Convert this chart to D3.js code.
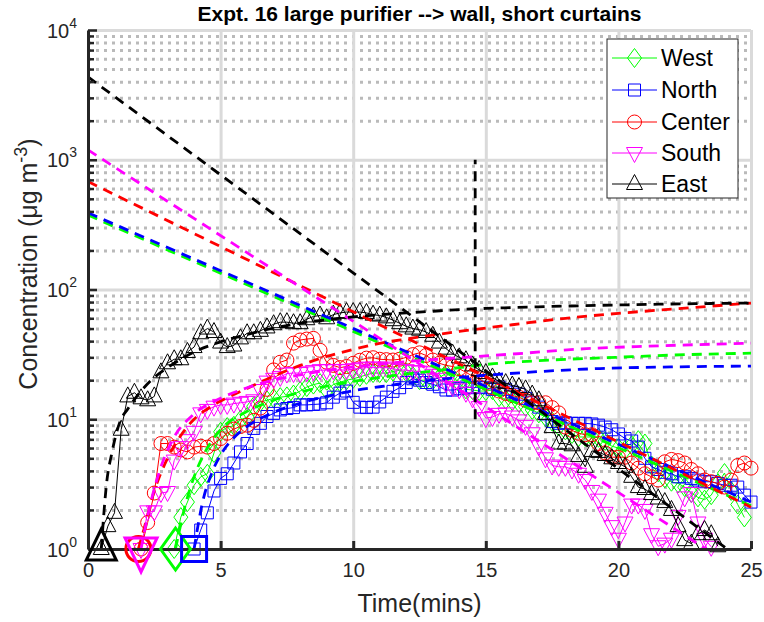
<!DOCTYPE html>
<html><head><meta charset="utf-8">
<script src="https://cdn.jsdelivr.net/npm/d3@7"></script>
<style>body{margin:0;background:#fff}svg{display:block}</style>
</head><body>
<svg id="chart" width="764" height="622"></svg>
<script>
// ---------------- DATA ----------------
const seriesNames   = ["West", "North", "Center", "South", "East"];
const seriesColors  = ["#00ff00", "#0000ff", "#ff0000", "#ff00ff", "#000000"];
const seriesMarkers = ["diamond", "square", "circle", "triangleDown", "triangleUp"];
const sampleStep = 0.25; // minutes between samples

const westStart = 3.25;
const westValues = [1,1.76,2.3,3.1,3.6,3.8,5.5,8,8.7,8.9,9.9,10.4,12.6,13.6,14,14.5,14.8,15,15.5,16.5,17.7,18.5,19,16.8,18.5,19.3,20,20.5,21.2,22,22.7,22.7,22.7,23.3,23.9,23,21.5,20,20,20,21,22.5,21,19,17,16.8,16.5,16.5,16.8,14.8,14.2,13.8,13.4,12.5,11.8,11.1,10.4,9.6,8.8,8.2,7.7,7.3,7.3,7.3,7.2,6.8,6.2,6.0,5.8,6.3,6.9,6.5,4.4,3.9,3.5,3.3,3.2,3.0,2.7,2.5,2.4,2.6,3.2,3.85,2.8,2.2,1.75];

const northStart = 4.0;
const northValues = [1,1.4,1.9,2.8,3.5,3.8,4.6,5.6,6.5,8.5,9.3,10.5,11.1,11.8,12.1,12.3,12.9,12.9,13,13.1,13.4,14.8,15.9,16.5,13.5,12.4,12.3,12.4,13.6,14.8,16.4,17.5,19.2,20.5,20,19.2,18.6,17.8,16.8,16.8,17.2,17.7,17.5,17.7,17.5,17,17.7,17,16.2,15.6,14.5,13.4,12.4,11,9.6,9.3,9.4,9.3,9.3,9.3,9.2,9.0,8.7,8.3,7.7,7.1,6.8,6.1,5.0,4.3,4.1,3.9,3.8,3.6,3.6,3.5,3.4,3.3,3.3,3.2,3.1,3.1,3.0,2.6,2.3];

const centerStart = 2.0;
const centerValues = [1,1.6,2.7,6.5,6.5,6.1,5.8,5.6,6.1,6.2,6.1,6.5,7.1,7.8,8.4,8.8,9.0,9.8,12.2,17,24,27.5,28.6,38.6,40.8,41.5,42,34,27.5,26,25,25.5,27,28.5,29.6,29.8,29,28.8,28.6,29,30,31.5,32.5,31,28.6,27,26,25.5,24.5,23,21.5,20.5,19,17.5,16.5,15.8,15.2,14.8,14,13.4,13.4,13.4,12.3,11.2,8.7,8.2,7.8,7.6,7.6,6.5,5.5,5.1,5.1,5.1,4.6,4.2,3.8,3.6,3.4,4.7,4.9,4.8,4.6,4.1,3.8,3.4,3.3,3.2,3.0,3.4,4.4,4.6,4.2];

const southStart = 2.0;
const southValues = [1,1.95,1.95,2.7,2.75,4.8,6.1,6.9,8,11.1,11.8,12.5,12.9,12.9,13.2,13.4,13.6,14,16.8,19.5,20.5,21.2,22.5,22.7,22.7,23,23.5,23.9,23.9,23.9,24,23.9,24.3,24.7,25,25,25,25,24.5,24,23.9,23.5,23.3,23,22,20.5,19,17.7,17,16,14.5,12.4,10.2,10.4,11,11.1,10.5,9.8,8.9,7.8,6.2,5,4.4,4.3,4.3,4.1,3.8,3.4,2.8,2.4,1.9,1.5,1.2,1.6,2.2,2.2,2.0,1.3,1.05,1.1,1.2,1.8,2.5,2.7,1.6,1.2,1.04];

const eastStart = 0.5;
const eastValues = [1,1.5,1.9,8.3,15,16,14.5,14,15,23,27,29,29,33,36,46,50,47,39,36,37,42,46,46,48,51,54,56,56,55,55,59,62,63,60,64,66,67,67,67,66,64,63,61,58,55,52,50,49,47,44,39,35,32,30,28.5,26,24,22.7,21,19.5,19,18.2,17.7,17,15.5,14,11,8.7,6.5,6.5,6.3,5.2,4.3,5.7,5.6,5.3,5.0,4.6,4.3,3.6,3.0,2.9,2.65,2.45,2.3,2.0,1.5,1.17,1.1,1.3,1.4,1.3,1.05];

// exponential decay fits (straight on log axis): [time, conc]
const westDecay   = [[0, 375], [25, 2.15]];
const northDecay  = [[0, 390], [25, 2.3]];
const centerDecay = [[0, 680], [25, 2.1]];
const southDecay  = [[0, 1190], [23.3, 1]];
const eastDecay   = [[0, 4350], [24.1, 1]];

// build-up fits
const westRise   = [[3.3,1],[3.7,2.3],[4,3.6],[4.5,6],[5,8.3],[6,11.5],[7,14],[8,16.2],[9,18],[10,19.6],[11,21],[12,22.3],[13,23.5],[14,25],[15.3,26.8],[17,28.3],[19.9,30],[22,31.2],[25,32.3]];
const northRise  = [[4,1],[4.3,2.2],[4.7,4],[5,5.3],[5.5,7.2],[6,8.8],[7,11.3],[8,13.3],[9,15],[10,16.6],[11,17.8],[12,19],[13,20],[14,21],[15.5,22.2],[17,23.3],[19.3,24.6],[22,25.3],[25,25.7]];
const centerRise = [[1.9,1],[2.1,1.4],[2.5,2.8],[3,5],[3.5,7.5],[4,10],[4.5,12],[5,13.8],[5.5,15.5],[6,17.3],[7,21.5],[8,26],[9,30.5],[10,34.5],[11,38.5],[12,41.5],[13,44.5],[14,47.5],[15,50.5],[16,53.5],[18,60],[20,65.5],[22,70.5],[25,78.6]];
const southRise  = [[2,1],[2.3,2],[2.7,4],[3.2,7],[4,11],[5,14.5],[6,17.5],[7,20],[8,22],[9,23.8],[10,25.3],[11,26.6],[12,27.8],[13,28.8],[14.5,30.3],[16,31.8],[18.8,35],[21,36.5],[25,38.6]];
const eastRise   = [[0.5,1],[0.7,3.2],[0.9,5.5],[1.2,9.5],[1.5,12],[2,16.5],[2.5,21],[3,25],[4,33],[5,39.5],[6,45],[7,50.5],[8,55],[9,58.5],[10,61.5],[11,64],[12,66],[13,68],[14,70],[15,71.5],[16,72.5],[18,74.5],[20,76],[22,77.3],[25,78.6]];

const startTimes = [3.3, 4.0, 1.9, 2.0, 0.5]; // large start markers (West, North, Center, South, East)
const cutLine = [[14.6, 10], [14.6, 1000]];

const xTicks = [0, 5, 10, 15, 20, 25];
const yMajor = [1, 10, 100, 1000, 10000];
const yExponents = ["0", "1", "2", "3", "4"];

const titleText = "Expt. 16 large purifier --> wall, short curtains";
const xLabelText = "Time(mins)";

// ---------------- LAYOUT ----------------
const L = 88, R = 751, T = 30, B = 549;
const FONT = "'Liberation Sans', Arial, Helvetica, sans-serif";
const AX = "#262626";

const svg = d3.select("#chart");
const x = d3.scaleLinear().domain([0, 25]).range([L, R]);
const y = d3.scaleLog().domain([1, 10000]).range([B, T]);

const yMinor = [];
for (let d = 1; d < 10000; d *= 10) for (let k = 2; k <= 9; k++) yMinor.push(k * d);

// minor grid (dotted)
svg.append("g").attr("transform", `translate(${L},0)`)
  .call(d3.axisLeft(y).tickValues(yMinor).tickSize(-(R - L)).tickFormat(""))
  .call(g => g.select(".domain").remove())
  .call(g => g.selectAll("line").attr("stroke", "#bababa").attr("stroke-width", 3).attr("stroke-dasharray", "3,5"));
// major grid
svg.append("g").attr("transform", `translate(${L},0)`)
  .call(d3.axisLeft(y).tickValues(yMajor.slice(1)).tickSize(-(R - L)).tickFormat(""))
  .call(g => g.select(".domain").remove())
  .call(g => g.selectAll("line").attr("stroke", "#dadada").attr("stroke-width", 3));
svg.append("g").attr("transform", `translate(0,${B})`)
  .call(d3.axisBottom(x).tickValues(xTicks.slice(1)).tickSize(-(B - T)).tickFormat(""))
  .call(g => g.select(".domain").remove())
  .call(g => g.selectAll("line").attr("stroke", "#dadada").attr("stroke-width", 3));

// ---------------- MARKERS ----------------
function markerPath(type, big) {
  switch (type) {
    case "square": { const s = big ? 12.5 : 6; return `M${-s},${-s}H${s}V${s}H${-s}Z`; }
    case "diamond": { const w = big ? 15 : 7, h = big ? 21 : 9.5; return `M0,${-h}L${w},0L0,${h}L${-w},0Z`; }
    case "triangleUp": { const w = big ? 15 : 8, t = big ? 20 : 9.5, b = big ? 11 : 5.5; return `M0,${-t}L${w},${b}L${-w},${b}Z`; }
    case "triangleDown": { const w = big ? 16 : 8, t = big ? 11 : 5.5, b = big ? 23 : 9.5; return `M${-w},${-t}L${w},${-t}L0,${b}Z`; }
  }
  return null;
}
function drawMarker(g, type, cx, cy, color, big) {
  if (type === "circle") {
    g.append("circle").attr("cx", cx).attr("cy", cy).attr("r", big ? 12.5 : 7)
      .attr("fill", "none").attr("stroke", color).attr("stroke-width", big ? 3 : 1);
  } else {
    g.append("path").attr("d", markerPath(type, big)).attr("transform", `translate(${cx},${cy})`)
      .attr("fill", "none").attr("stroke", color).attr("stroke-width", big ? 3 : 1).attr("stroke-linejoin", "miter");
  }
}

const allStarts = [westStart, northStart, centerStart, southStart, eastStart];
const allValues = [westValues, northValues, centerValues, southValues, eastValues];
const allDecay = [westDecay, northDecay, centerDecay, southDecay, eastDecay];
const allRise = [westRise, northRise, centerRise, southRise, eastRise];

const line = d3.line().x(d => x(d[0])).y(d => y(d[1]));
const smooth = d3.line().x(d => x(d[0])).y(d => y(d[1])).curve(d3.curveMonotoneX);

// data series
seriesNames.forEach((name, i) => {
  const pts = allValues[i].map((v, j) => [allStarts[i] + j * sampleStep, v]);
  const g = svg.append("g");
  g.append("path").attr("d", line(pts)).attr("fill", "none").attr("stroke", seriesColors[i]).attr("stroke-width", 1);
  pts.forEach(p => drawMarker(g, seriesMarkers[i], x(p[0]), y(p[1]), seriesColors[i], false));
});

// fits (dashed)
seriesNames.forEach((name, i) => {
  svg.append("path").attr("d", line(allDecay[i])).attr("fill", "none")
    .attr("stroke", seriesColors[i]).attr("stroke-width", 2.8).attr("stroke-dasharray", "10,7");
  svg.append("path").attr("d", smooth(allRise[i])).attr("fill", "none")
    .attr("stroke", seriesColors[i]).attr("stroke-width", 2.8).attr("stroke-dasharray", "10,7");
});
svg.append("path").attr("d", line(cutLine)).attr("fill", "none")
  .attr("stroke", "#000").attr("stroke-width", 2.8).attr("stroke-dasharray", "10,7");

// ---------------- AXES ----------------
const yMinorAxis = svg.append("g").attr("transform", `translate(${L},0)`)
  .call(d3.axisLeft(y).tickValues(yMinor).tickSize(-6).tickSizeOuter(0).tickFormat(""));
yMinorAxis.select(".domain").remove();
yMinorAxis.selectAll("line").attr("stroke", AX).attr("stroke-width", 2.5);

const yAxis = svg.append("g").attr("transform", `translate(${L},0)`)
  .call(d3.axisLeft(y).tickValues(yMajor).tickSize(-9).tickSizeOuter(0).tickFormat(""));
yAxis.select(".domain").attr("stroke", AX).attr("stroke-width", 3);
yAxis.selectAll("line").attr("stroke", AX).attr("stroke-width", 2.5);
yAxis.selectAll(".tick").each(function (d, i) {
  const t = d3.select(this).append("text").attr("x", -11).attr("y", 7)
    .attr("text-anchor", "end").attr("fill", AX)
    .style("font-family", FONT).style("font-size", "20px");
  t.append("tspan").text("10");
  t.append("tspan").attr("dy", -10).style("font-size", "14px").text(yExponents[i]);
});

const xAxis = svg.append("g").attr("transform", `translate(0,${B})`)
  .call(d3.axisBottom(x).tickValues(xTicks).tickSize(-8).tickSizeOuter(0).tickPadding(28).tickFormat(d3.format("d")));
xAxis.select(".domain").attr("stroke", AX).attr("stroke-width", 3);
xAxis.selectAll("line").attr("stroke", AX).attr("stroke-width", 3);
xAxis.selectAll("text").attr("fill", AX).attr("dy", "0").style("font-family", FONT).style("font-size", "20px");

// large start markers
seriesNames.forEach((name, i) => drawMarker(svg.append("g"), seriesMarkers[i], x(startTimes[i]), y(1), seriesColors[i], true));

// ---------------- LABELS ----------------
svg.append("text").attr("x", (L + R) / 2).attr("y", 21).attr("text-anchor", "middle")
  .style("font-family", FONT).style("font-size", "21px").style("font-weight", "bold").attr("fill", "#000")
  .text(titleText);
svg.append("text").attr("x", (L + R) / 2).attr("y", 612).attr("text-anchor", "middle")
  .style("font-family", FONT).style("font-size", "25px").attr("fill", AX).text(xLabelText);
const yl = svg.append("text").attr("transform", `translate(37,264) rotate(-90)`).attr("text-anchor", "middle")
  .style("font-family", FONT).style("font-size", "25px").attr("fill", AX);
yl.append("tspan").text("Concentration (\u03bcg m");
yl.append("tspan").attr("dy", -10).style("font-size", "18px").text("-3");
yl.append("tspan").attr("dy", 10).text(")");

// ---------------- LEGEND ----------------
const lg = svg.append("g");
lg.append("rect").attr("x", 607).attr("y", 39).attr("width", 131).attr("height", 159)
  .attr("fill", "#fff").attr("stroke", AX).attr("stroke-width", 1);
const legendY = [58, 90, 122, 153, 184];
seriesNames.forEach((name, i) => {
  const yy = legendY[i];
  lg.append("line").attr("x1", 612).attr("x2", 657).attr("y1", yy).attr("y2", yy)
    .attr("stroke", seriesColors[i]).attr("stroke-width", 1);
  drawMarker(lg, seriesMarkers[i], 634.5, yy, seriesColors[i], false);
  lg.append("text").attr("x", 661).attr("y", yy + 8).style("font-family", FONT).style("font-size", "23px")
    .attr("fill", "#000").text(name);
});
</script>
</body></html>
